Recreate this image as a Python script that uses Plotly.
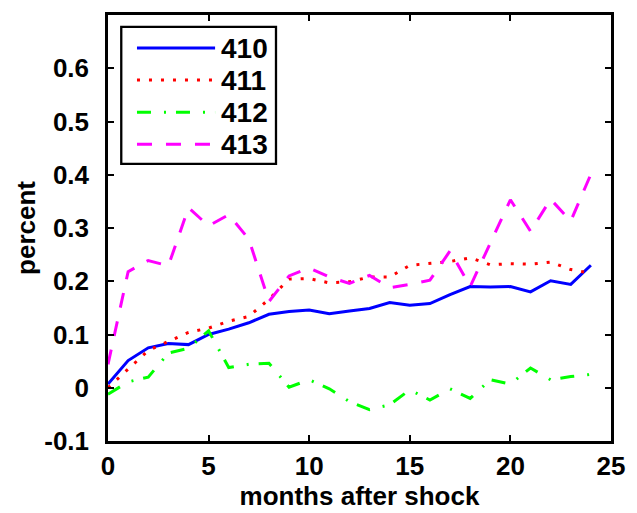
import plotly.graph_objects as go

# Impulse responses (percent) for months 0..24 after the shock
months = list(range(25))
s410 = [0.007, 0.051, 0.075, 0.083, 0.081, 0.100, 0.110, 0.122, 0.138, 0.143,
        0.146, 0.139, 0.144, 0.149, 0.160, 0.155, 0.158, 0.175, 0.190, 0.189,
        0.190, 0.180, 0.201, 0.194, 0.230]
s411 = [0.000, 0.035, 0.070, 0.087, 0.104, 0.112, 0.125, 0.134, 0.166, 0.204,
        0.205, 0.197, 0.199, 0.208, 0.208, 0.230, 0.233, 0.237, 0.244, 0.231,
        0.233, 0.232, 0.236, 0.222, 0.215]
s412 = [-0.012, 0.011, 0.020, 0.065, 0.074, 0.107, 0.038, 0.044, 0.046, 0.001,
        0.015, -0.002, -0.026, -0.041, -0.032, -0.004, -0.023, -0.002, -0.020, 0.015,
        0.007, 0.037, 0.015, 0.021, 0.025]
s413 = [0.044, 0.218, 0.239, 0.229, 0.338, 0.304, 0.325, 0.279, 0.162, 0.210,
        0.225, 0.208, 0.196, 0.211, 0.188, 0.194, 0.202, 0.257, 0.190, 0.272,
        0.353, 0.294, 0.354, 0.313, 0.401]

names = ["410", "411", "412", "413"]
series = [s410, s411, s412, s413]
colors = ["#0000FF", "#FF0000", "#00FF00", "#FF00FF"]
dashes = ["solid", "3px,9px", "14px,13px,2px,10px", "15px,14px"]

xticks = [0, 5, 10, 15, 20, 25]
yticks = [-0.1, 0, 0.1, 0.2, 0.3, 0.4, 0.5, 0.6]
ytick_text = ["-0.1", "0", "0.1", "0.2", "0.3", "0.4", "0.5", "0.6"]

FONT = "Liberation Sans, Arial, Helvetica, sans-serif"
W, H = 637, 513
ML, MR, MT, MB = 108, 17, 13, 68

fig = go.Figure()
for name, ys, col, dsh in zip(names, series, colors, dashes):
    fig.add_trace(go.Scatter(x=months, y=ys, mode="lines", name=name,
                             line=dict(color=col, width=3, dash=dsh),
                             showlegend=False))

axis_common = dict(showline=True, linecolor="black", linewidth=2.5,
                   mirror="allticks", ticks="inside", ticklen=6,
                   tickwidth=2, tickcolor="black", showgrid=False,
                   zeroline=False,
                   tickfont=dict(family=FONT, size=26, color="black", weight="bold"))

fig.update_xaxes(range=[0, 25], tickvals=xticks, **axis_common,
                 title=dict(text="months after shock", standoff=2,
                            font=dict(family=FONT, size=26, color="black", weight="bold")))
fig.update_yaxes(range=[-0.1, 0.7], tickvals=yticks, ticktext=ytick_text,
                 ticklabelstandoff=11, **axis_common,
                 title=dict(text="percent", standoff=2,
                            font=dict(family=FONT, size=26, color="black", weight="bold")))

# Legend box drawn in paper coordinates (pixel positions converted)
pw, ph = W - ML - MR, H - MT - MB


def px2x(px):
    return (px - ML) / pw


def py2y(py):
    return (H - MB - py) / ph


shapes = [dict(type="rect", xref="paper", yref="paper",
               x0=px2x(121.5), x1=px2x(279), y0=py2y(164), y1=py2y(25),
               line=dict(color="black", width=2.3), fillcolor="white", layer="above")]
annotations = []
row_y = [46.5, 79, 111.5, 144]
for name, col, dsh, ry in zip(names, colors, dashes, row_y):
    shapes.append(dict(type="line", xref="paper", yref="paper",
                       x0=px2x(137.5), x1=px2x(217), y0=py2y(ry), y1=py2y(ry),
                       line=dict(color=col, width=3, dash=dsh), layer="above"))
    annotations.append(dict(xref="paper", yref="paper", x=px2x(221), y=py2y(ry),
                            xanchor="left", yanchor="middle", showarrow=False,
                            text=name,
                            font=dict(family=FONT, size=28, color="black", weight="bold")))

fig.update_layout(width=W, height=H,
                  margin=dict(l=ML, r=MR, t=MT, b=MB),
                  paper_bgcolor="white", plot_bgcolor="white",
                  shapes=shapes, annotations=annotations, showlegend=False)

fig.write_html("out.html")
